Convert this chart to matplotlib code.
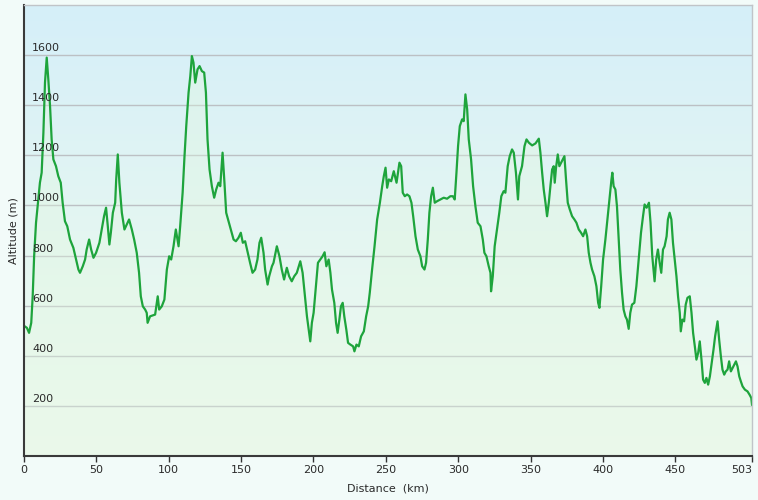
import numpy as np
import matplotlib.pyplot as plt
from matplotlib.colors import LinearSegmentedColormap

# distance (km) and altitude (m)
dist_km = [0.5, 2, 3.5, 5, 6, 7, 8.3, 9.9, 11, 12.2, 13.4, 14.5, 15.7, 16.8, 18, 19.1, 20.3,
           22.1, 23.7, 25.4, 26.7, 28.3, 29.9, 31.8, 34.1, 36, 37.6, 38.7, 40.6, 42.2, 43.3,
           45, 46.4, 48, 49.8, 52.1, 53.7, 55.3, 56.7, 57.9, 59, 60, 61.4, 63, 63.7, 64.8,
           65.9, 67.6, 69.4, 71, 72.6, 74.5, 76.1, 77.9, 79.5, 80.7, 82.1, 83.7, 84.8, 85.4,
           87.1, 90.6, 92.4, 93.4, 95.2, 97, 98.7, 100.3, 101.7, 103.3, 104.9, 106.8, 107.9,
           109.6, 110.9, 112.1, 113.7, 114.9, 116, 117.1, 118.3, 119.9, 121.3, 122.9, 124.5,
           125.7, 126.8, 128.2, 129.8, 131.4, 132.8, 134.4, 135.6, 137.2, 138.5, 139.7, 141.3,
           142.9, 144.8, 146.4, 148.2, 149.8, 151.2, 152.8, 154.6, 156.2, 157.9, 159.7, 161.3,
           162.7, 163.9, 165.5, 166.6, 168.3, 169.4, 171.3, 172.4, 174.7, 176.5, 178.1, 179.7,
           181.6, 183.2, 185, 186.7, 188.5, 190.9, 192.5, 193.9, 195.5, 196.7, 197.8, 198.9,
           200.1, 201.7, 203.1, 204.7, 206.3, 207.7, 208.9, 210.5, 211.7, 212.8, 214.4, 215.6,
           216.7, 217.9, 219, 220.2, 221.3, 222.7, 223.9, 225.5, 227.4, 228.3, 229.7, 231.3,
           232.9, 234.8, 236.4, 237.8, 238.9, 240.5, 242.2, 244, 245.9, 247.5, 248.6, 249.8,
           250.9, 252.1, 253.7, 255.5, 257.4, 259.4, 260.6, 261.7, 263.1, 264.7, 266.3, 267.7,
           268.9, 270.5, 272.1, 273.9, 275.1, 276.7, 277.8, 279, 280.1, 281.3, 282.5, 283.8,
           285.4, 287.7, 290, 292.3, 294.6, 296.3, 297.6, 298.8, 299.9, 301.1, 302.7, 303.8,
           305, 306.2, 307.3, 308.9, 310.3, 311.9, 313.5, 315.4, 317, 318.1, 319.5, 321.1,
           322.3, 322.7, 323.9, 325.2, 326.8, 328.4, 329.8, 331.4, 332.6, 334.2, 335.6, 337.2,
           338.4, 339.9, 341.3, 342.2, 344.1, 345.8, 347.2, 348.8, 351.1, 353.4, 355.7, 356.8,
           358, 359.1, 360.3, 361.4, 362.6, 363.7, 364.9, 366, 366.7, 367.6, 368.8, 369.9,
           371.1, 372.2, 373.4, 374.5, 375.7, 377.1, 378.7, 380.3, 381.7, 383.3, 384.9, 386.3,
           387.9, 389.1, 390.2, 391.4, 392.5, 394.1, 395.5, 396.7, 397.6, 398.8, 400.1, 401.7,
           403.3, 404.7, 405.9, 406.5, 407.4, 408.6, 409.7, 410.9, 412, 413.2, 414.3, 415.5,
           416.6, 417.8, 418.9, 420.1, 421.7, 423.1, 424.7, 426.3, 427.7, 428.8, 430.2, 431.8,
           432.9, 434.1, 435.7, 436.8, 438, 439.2, 440.3, 441.5, 442.6, 444, 444.9, 446.1,
           447.3, 448.4, 449.6, 450.8, 451.9, 453.1, 453.8, 454.9, 456.1, 457.2, 458.4, 460,
           461.2, 462.3, 463.5, 464.6, 465.8, 466.9, 468.1, 469.2, 470.4, 471.5, 472.7, 473.9,
           475.2, 476.4, 477.5, 479.2, 480.3, 481.5, 482.6, 483.8, 484.9, 486.1, 487.2, 488.4,
           489.6, 490.7, 491.9, 493, 494.2, 495.3, 496.5, 498.1, 499.9, 501.3, 502.5, 503]
alt_m = [517, 511, 491, 531, 637, 797, 931, 1024, 1091, 1131, 1291, 1491, 1591, 1504, 1397, 1264, 1184,
         1157, 1117, 1091, 1011, 937, 917, 864, 831, 784, 744, 731, 757, 784, 824,
         864, 824, 791, 811, 851, 904, 957, 991, 917, 844, 891, 971, 1011, 1104, 1204,
         1091, 971, 904, 924, 944, 904, 864, 811, 731, 637, 597, 584, 571, 531,
         557, 564, 637, 584, 597, 624, 744, 797, 784, 837, 904, 837, 917,
         1051, 1197, 1317, 1451, 1517, 1597, 1571, 1491, 1544, 1557, 1537, 1531,
         1451, 1264, 1144, 1077, 1031, 1064, 1091, 1077, 1211, 1091, 971, 937,
         904, 864, 857, 871, 891, 851, 857, 811, 771, 731, 744, 784,
         851, 871, 811, 744, 684, 717, 757, 771, 837, 797, 744, 704,
         751, 717, 697, 717, 731, 777, 731, 651, 557, 504, 457, 531,
         571, 677, 771, 784, 797, 813, 757, 784, 731, 664, 611, 531,
         491, 544, 597, 611, 557, 504, 451, 444, 437, 417, 444, 437,
         477, 497, 557, 597, 651, 744, 837, 944, 1011, 1077, 1117, 1151,
         1071, 1104, 1097, 1137, 1091, 1171, 1157, 1051, 1037, 1044, 1037, 1011,
         957, 877, 824, 797, 757, 744, 771, 864, 971, 1037, 1071, 1011,
         1017, 1024, 1031, 1027, 1037, 1037, 1024, 1131, 1237, 1317, 1344, 1337,
         1444, 1384, 1264, 1184, 1077, 997, 931, 917, 864, 811, 797, 757,
         731, 657, 717, 837, 904, 971, 1037, 1057, 1051, 1157, 1197, 1224,
         1211, 1131, 1024, 1117, 1157, 1237, 1264, 1251, 1240, 1248, 1267, 1211,
         1131, 1064, 1011, 957, 1011, 1077, 1144, 1157, 1091, 1151, 1204, 1157,
         1171, 1184, 1197, 1104, 1011, 984, 957, 944, 931, 904, 891, 877,
         904, 877, 811, 771, 744, 717, 677, 611, 591, 677, 784, 864,
         957, 1037, 1104, 1131, 1077, 1064, 997, 864, 744, 651, 584, 557,
         544, 507, 571, 604, 611, 677, 784, 891, 957, 1004, 991, 1011,
         931, 797, 697, 784, 824, 771, 731, 824, 837, 877, 944, 971,
         944, 851, 784, 717, 637, 571, 497, 544, 537, 604, 631, 637,
         571, 491, 437, 384, 411, 457, 384, 304, 291, 311, 284, 317,
         371, 424, 477, 537, 464, 397, 344, 324, 337, 344, 377, 337,
         351, 364, 377, 357, 317, 297, 277, 264, 257, 244, 231, 204]

x_ticks = [0, 50, 100, 150, 200, 250, 300, 350, 400, 450, 503]
y_ticks = [200, 400, 600, 800, 1000, 1200, 1400, 1600]

fig = plt.figure(figsize=(7.58, 5.0), dpi=100, facecolor='#f2fbf9')
ax = fig.add_axes([24 / 758, 44.3 / 500, 728 / 758, 450.4 / 500])
ax.set_xlim(0, 503)
ax.set_ylim(0, 1800)

# background gradient, light blue on top to pale green at the bottom
cmap = LinearSegmentedColormap.from_list('bg', ['#f0fbf0', '#e4f6f2', '#d5eff9'])
grad = np.linspace(0, 1, 256).reshape(-1, 1)
ax.imshow(grad, cmap=cmap, origin='lower', extent=[0, 1, 0, 1],
          transform=ax.transAxes, aspect='auto', zorder=0)

for v in y_ticks:
    ax.axhline(v, color='#bcc0c4', lw=1, zorder=1)
    ax.annotate(str(v), xy=(0, v), xycoords=('axes fraction', 'data'),
                xytext=(8, 7), textcoords='offset pixels', ha='left', va='center',
                fontsize=8, color='#2a2a2a', zorder=3)

ax.fill_between(dist_km, alt_m, 0, color='#e2f7df', alpha=0.35, lw=0, zorder=1.5)
ax.plot(dist_km, alt_m, color='#1ea43c', lw=1.6, zorder=2)

ax.set_xticks(x_ticks)
ax.set_yticks([])
ax.tick_params(axis='x', direction='out', length=4, width=1, color='#333333',
               labelsize=8, labelcolor='#2a2a2a', pad=3)
# last label sits left of its tick, as in the original
ax.get_xticklabels()[-1].set_horizontalalignment('right')
ax.get_xticklabels()[-1].set_x(503)

for s in ['top', 'right']:
    ax.spines[s].set_color('#c0c4c8')
    ax.spines[s].set_linewidth(1)
for s in ['left', 'bottom']:
    ax.spines[s].set_color('#3a3a3a')
    ax.spines[s].set_linewidth(1.5)

ax.set_xlabel('Distance  (km)', fontsize=8, color='#2a2a2a', labelpad=6)
ax.set_ylabel('Altitude (m)', fontsize=8, color='#2a2a2a', labelpad=4)

fig.savefig('out.png', dpi=100, facecolor=fig.get_facecolor())
